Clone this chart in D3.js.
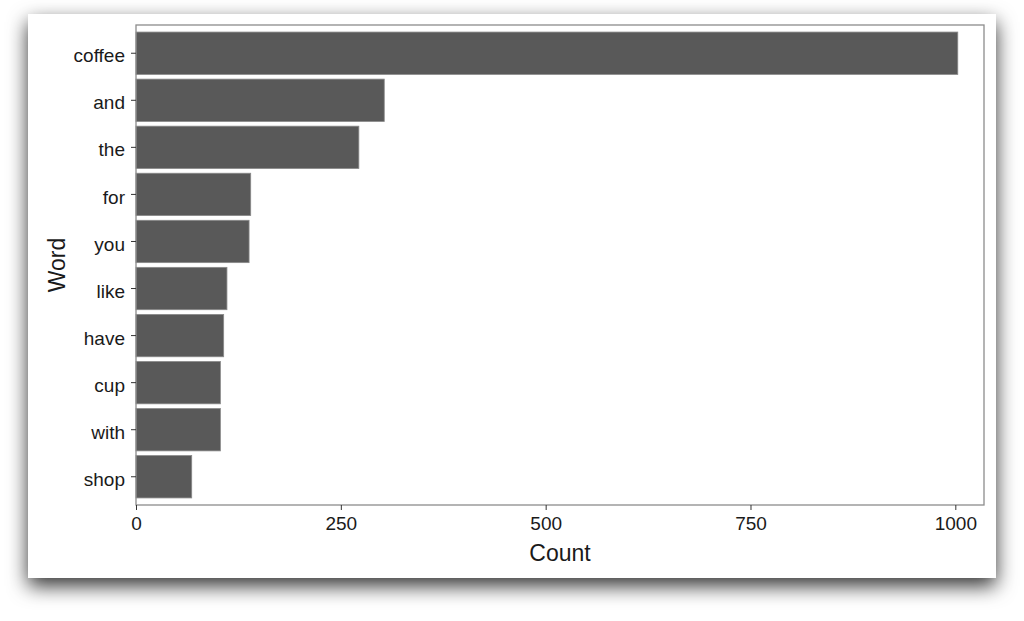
<!DOCTYPE html>
<html>
<head>
<meta charset="utf-8">
<script src="https://cdn.jsdelivr.net/npm/d3@7"></script>
<style>
  body { margin: 0; background: #fff; }
  text { font-family: "Liberation Sans", Arial, sans-serif; }
</style>
</head>
<body>
<div id="chart"></div>
<script>
// data
var words = ["coffee", "and", "the", "for", "you", "like", "have", "cup", "with", "shop"];
var counts = [1003, 303, 272, 140, 138, 111, 107, 103, 103, 68];
var xTicks = [0, 250, 500, 750, 1000];

var W = 1024, H = 621;
var card = {x: 28, y: 14, w: 968, h: 564};
var margin = {top: 25, right: 1024 - 984, bottom: 621 - 505, left: 136},
    width = W - margin.left - margin.right,
    height = H - margin.top - margin.bottom;

var svg = d3.select("#chart")
  .append("svg")
    .attr("width", W)
    .attr("height", H);

// window drop shadow
var defs = svg.append("defs");
var f = defs.append("filter")
    .attr("id", "shadow")
    .attr("x", "-10%").attr("y", "-10%")
    .attr("width", "120%").attr("height", "130%");
f.append("feDropShadow")
    .attr("dx", 0).attr("dy", 8)
    .attr("stdDeviation", 10)
    .attr("flood-color", "#000")
    .attr("flood-opacity", 0.8);

svg.append("rect")
    .attr("x", card.x).attr("y", card.y)
    .attr("width", card.w).attr("height", card.h)
    .attr("fill", "#fff")
    .attr("filter", "url(#shadow)");

var g = svg.append("g")
    .attr("transform", "translate(" + margin.left + "," + margin.top + ")");

// scales
var x = d3.scaleLinear()
  .domain([0, 1035])
  .range([0, width]);

var y = d3.scaleBand()
  .domain(words)
  .range([0, height])
  .paddingInner(0.1)
  .paddingOuter(0.15);

// bars
g.append("g")
  .selectAll("rect")
  .data(words)
  .enter()
  .append("rect")
    .attr("x", x(0))
    .attr("y", function(d) { return y(d); })
    .attr("width", function(d, i) { return x(counts[i]) - x(0); })
    .attr("height", y.bandwidth())
    .attr("fill", "#595959")
    .attr("stroke", "#8a8a8a")
    .attr("stroke-width", 0.8);

// panel border
g.append("rect")
    .attr("x", 0).attr("y", 0)
    .attr("width", width).attr("height", height)
    .attr("fill", "none")
    .attr("stroke", "#8c8c8c")
    .attr("stroke-width", 1.3);

// X axis
var xAxis = g.append("g")
    .attr("transform", "translate(0," + height + ")")
    .call(d3.axisBottom(x).tickValues(xTicks).tickFormat(d3.format("d")).tickSize(5).tickPadding(7));
xAxis.select(".domain").remove();
xAxis.selectAll("line").attr("stroke", "#333");
xAxis.selectAll("text")
    .attr("font-size", 19)
    .attr("fill", "#1a1a1a")
    .style("font-family", "'Liberation Sans', Arial, sans-serif");

// Y axis
var yAxis = g.append("g")
    .call(d3.axisLeft(y).tickSize(5).tickPadding(6));
yAxis.select(".domain").remove();
yAxis.selectAll("line").attr("stroke", "#333");
yAxis.selectAll("text")
    .attr("font-size", 19)
    .attr("dy", "0.48em")
    .attr("fill", "#1a1a1a")
    .style("font-family", "'Liberation Sans', Arial, sans-serif");

// axis titles
svg.append("text")
    .attr("text-anchor", "middle")
    .attr("x", margin.left + width / 2)
    .attr("y", 561)
    .attr("font-size", 23)
    .attr("fill", "#1a1a1a")
    .text("Count");

svg.append("text")
    .attr("text-anchor", "middle")
    .attr("transform", "translate(65," + (margin.top + height / 2) + ") rotate(-90)")
    .attr("font-size", 23)
    .attr("fill", "#1a1a1a")
    .text("Word");
</script>
</body>
</html>
